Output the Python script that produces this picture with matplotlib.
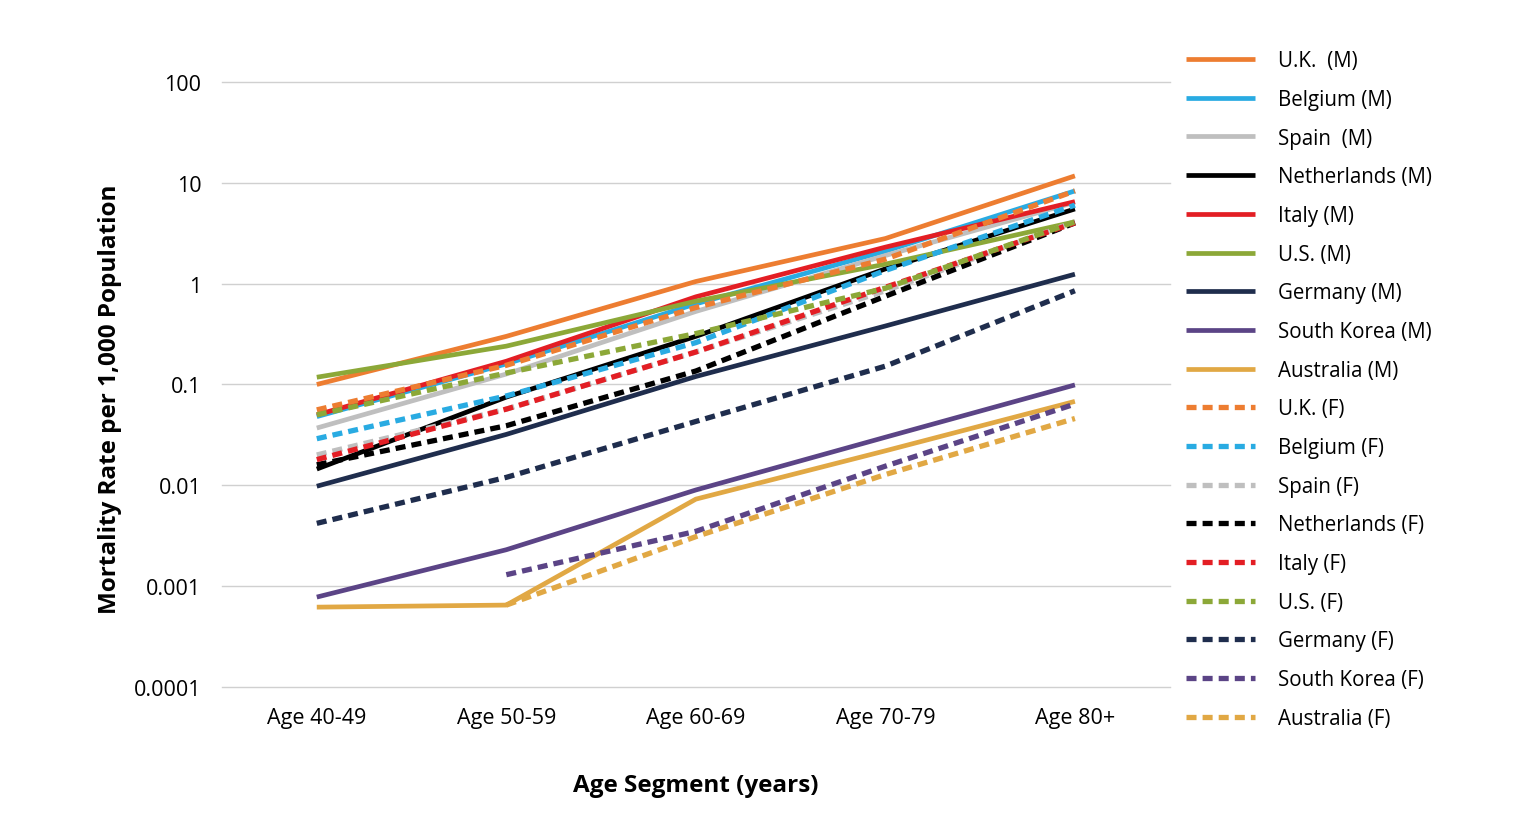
import matplotlib.pyplot as plt
import numpy as np

plt.rcParams['font.family'] = ['Open Sans', 'DejaVu Sans']

ages = ["Age 40-49", "Age 50-59", "Age 60-69", "Age 70-79", "Age 80+"]

# mortality per 1,000 population
uk_m = [0.10, 0.30, 1.05, 2.8, 11.7]
belgium_m = [0.048, 0.16, 0.63, 2.1, 8.3]
spain_m = [0.037, 0.127, 0.53, 1.9, 6.4]
netherlands_m = [0.0145, 0.075, 0.30, 1.40, 5.5]
italy_m = [0.050, 0.17, 0.74, 2.3, 6.5]
us_m = [0.118, 0.24, 0.67, 1.56, 4.1]
germany_m = [0.0098, 0.032, 0.12, 0.38, 1.24]
korea_m = [0.00078, 0.0023, 0.009, 0.030, 0.099]
australia_m = [0.00062, 0.00065, 0.0073, 0.022, 0.068]

uk_f = [0.056, 0.155, 0.58, 1.75, 8.3]
belgium_f = [0.029, 0.077, 0.26, 1.35, 6.0]
spain_f = [0.020, 0.057, 0.21, 0.85, 4.1]
netherlands_f = [0.016, 0.039, 0.136, 0.75, 4.0]
italy_f = [0.018, 0.057, 0.21, 0.92, 4.0]
us_f = [0.050, 0.13, 0.32, 0.90, 4.1]
germany_f = [0.0042, 0.012, 0.043, 0.152, 0.85]
korea_f = [np.nan, 0.0013, 0.0035, 0.0155, 0.064]
australia_f = [np.nan, 0.00065, 0.0031, 0.0128, 0.046]

countries = ["U.K.  (M)", "Belgium (M)", "Spain  (M)", "Netherlands (M)", "Italy (M)",
             "U.S. (M)", "Germany (M)", "South Korea (M)", "Australia (M)",
             "U.K. (F)", "Belgium (F)", "Spain (F)", "Netherlands (F)", "Italy (F)",
             "U.S. (F)", "Germany (F)", "South Korea (F)", "Australia (F)"]
series = [uk_m, belgium_m, spain_m, netherlands_m, italy_m, us_m, germany_m, korea_m, australia_m,
          uk_f, belgium_f, spain_f, netherlands_f, italy_f, us_f, germany_f, korea_f, australia_f]
palette = ["#ED7D31", "#29ABE2", "#BFBFBF", "#000000", "#E31E24",
           "#8CA838", "#1F2D4D", "#5B4486", "#E1A844"]

fig = plt.figure(figsize=(15.27, 8.29), dpi=100)
ax = fig.add_axes([0.1454, 0.170, 0.6206, 0.730])

x = np.arange(len(ages))
for i, (name, vals) in enumerate(zip(countries, series)):
    color = palette[i % 9]
    if i < 9:
        ax.plot(x, vals, color=color, lw=3.4, label=name, solid_capstyle='butt')
    else:
        ax.plot(x, vals, color=color, lw=3.8, label=name, dashes=(1.9, 1.15), dash_capstyle='butt')

ax.set_yscale('log')
ax.set_ylim(1e-4, 100)
ax.set_xlim(-0.5, len(ages) - 0.5)
ax.set_xticks(x)
ax.set_xticklabels(ages, fontsize=15.5)
yt = [0.0001, 0.001, 0.01, 0.1, 1, 10, 100]
ax.set_yticks(yt)
ax.set_yticklabels(["0.0001", "0.001", "0.01", "0.1", "1", "10", "100"], fontsize=15.5)
ax.minorticks_off()
ax.tick_params(length=0)
ax.tick_params(axis='x', pad=14)
ax.tick_params(axis='y', pad=15)
ax.grid(axis='y', color='#D0D0D0', lw=1.0)
for gl in ax.get_ygridlines():
    gl.set_clip_on(False)
ax.set_axisbelow(True)
for s in ax.spines.values():
    s.set_visible(False)

ax.set_xlabel("Age Segment (years)", fontsize=17.5, fontweight='bold', labelpad=33)
ax.set_ylabel("Mortality Rate per 1,000 Population", fontsize=17.5, fontweight='bold')
ax.yaxis.set_label_coords(-0.1055, 0.478)

ax.legend(loc='upper left', bbox_to_anchor=(0.771, 0.948), bbox_transform=fig.transFigure,
          frameon=False, fontsize=14.8, handlelength=3.4, handletextpad=1.1,
          labelspacing=0.86, borderaxespad=0)

fig.savefig("out.png", dpi=100)
